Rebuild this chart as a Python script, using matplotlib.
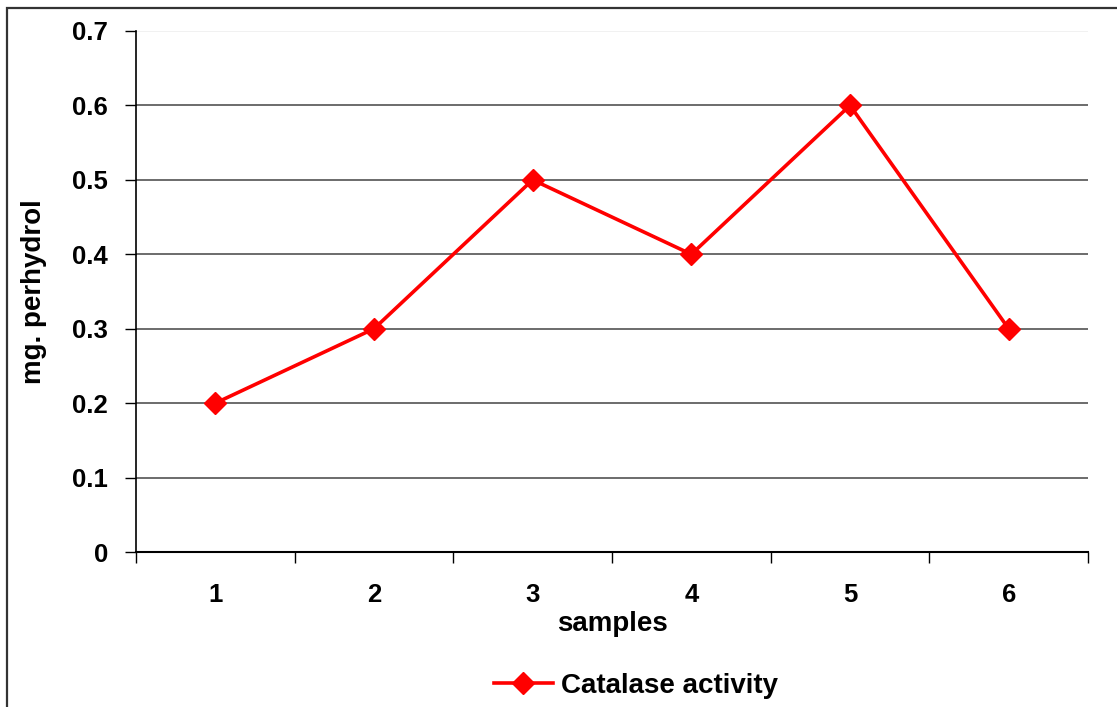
import numpy as np
import matplotlib.pyplot as plt
from matplotlib.patches import Rectangle

plt.rcParams['font.family'] = 'Liberation Sans'
plt.rcParams['font.weight'] = 'bold'

samples = ['1', '2', '3', '4', '5', '6']
catalase = [0.2, 0.3, 0.5, 0.4, 0.6, 0.3]
y_ticks = [0, 0.1, 0.2, 0.3, 0.4, 0.5, 0.6, 0.7]

fig = plt.figure(figsize=(11.17, 7.07), dpi=100)

# outer chart frame (only left and top edges fall inside the image)
fig.patches.append(Rectangle((7 / 1117, -0.5), 1.5, 1.5 - 8 / 707,
                             transform=fig.transFigure, fill=False,
                             edgecolor='#333333', linewidth=1.6, zorder=0))

ax = fig.add_axes([136 / 1117, 1 - 552 / 707, (1088 - 136) / 1117, (552 - 31) / 707])

x = np.arange(len(samples))
ax.plot(x, catalase, color='#ff0000', linewidth=2.6, marker='D', markersize=11,
        label='Catalase activity', zorder=3, clip_on=False)

ax.set_xlim(-0.5, len(samples) - 0.5)
ax.set_ylim(0, 0.7)

# category boundaries get tick marks, labels sit at centres
ax.set_xticks(np.arange(len(samples) + 1) - 0.5)
ax.set_xticklabels([])
ax.set_xticks(x, minor=True)
ax.set_xticklabels(samples, minor=True)
ax.tick_params(axis='x', which='major', direction='out', length=8, width=1, color='black')
ax.tick_params(axis='x', which='minor', length=0, pad=22, labelsize=18.5)

ax.set_yticks(y_ticks)
ax.set_yticklabels(['0', '0.1', '0.2', '0.3', '0.4', '0.5', '0.6', '0.7'])
ax.tick_params(axis='y', direction='out', length=8, width=1, pad=12, labelsize=18.5)

for v in y_ticks[1:]:
    ax.axhline(v, color='#eeeeee' if v == 0.7 else '#444444', linewidth=1.1, zorder=1)

for side in ['top', 'right']:
    ax.spines[side].set_visible(False)
ax.spines['left'].set_linewidth(1.2)
ax.spines['bottom'].set_linewidth(1.5)

ax.set_xlabel('samples', fontsize=20, fontweight='bold', labelpad=3)
ax.set_ylabel('mg. perhydrol', fontsize=20, fontweight='bold', labelpad=18)

fig.legend(loc='center', bbox_to_anchor=(636 / 1117, 1 - 686 / 707), frameon=False,
           fontsize=20, handlelength=2.1, handletextpad=0.3)

fig.savefig('out.png', dpi=100)
